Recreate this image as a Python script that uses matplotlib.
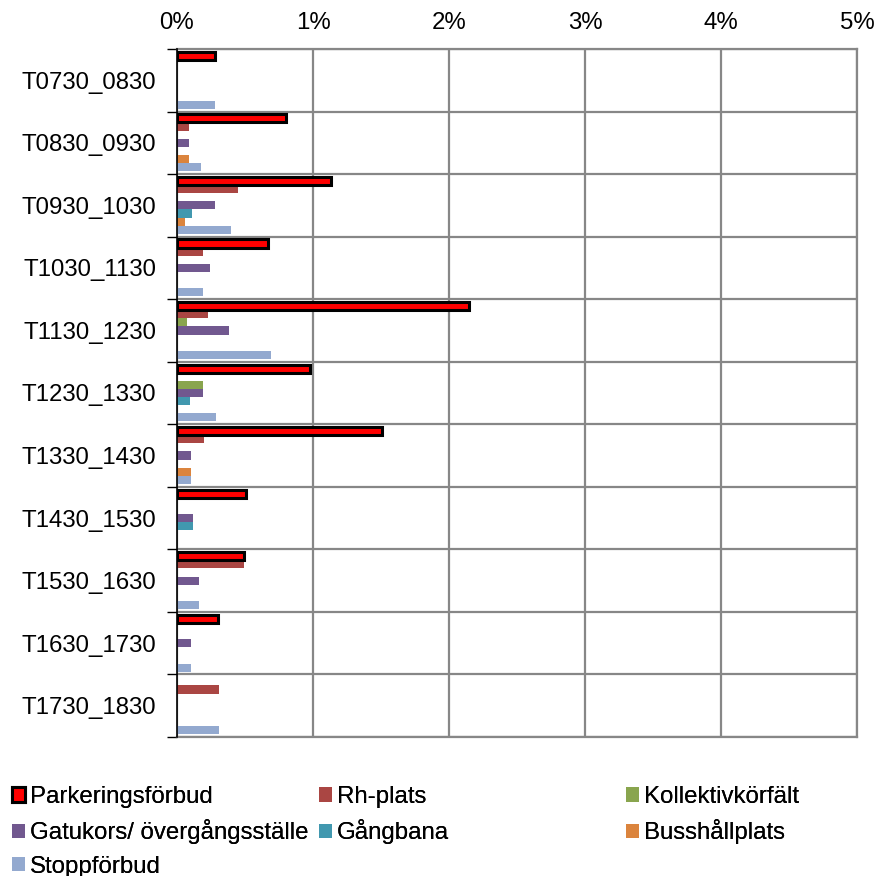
# //--------------------------< imports >--------------------------\\

import matplotlib
matplotlib.use('Agg')
import matplotlib.pyplot as plt
from matplotlib.patches import Patch
import numpy as np


# //--------------------------< data (share in %) >--------------------------\\

periods = ['T0730_0830', 'T0830_0930', 'T0930_1030', 'T1030_1130', 'T1130_1230', 'T1230_1330',
           'T1330_1430', 'T1430_1530', 'T1530_1630', 'T1630_1730', 'T1730_1830']

parkering = [0.28, 0.80, 1.13, 0.67, 2.145, 0.98, 1.51, 0.51, 0.49, 0.30, 0.0]
rh_plats = [0.0, 0.09, 0.45, 0.19, 0.23, 0.0, 0.20, 0.0, 0.49, 0.0, 0.31]
kollektiv = [0.0, 0.0, 0.0, 0.0, 0.075, 0.19, 0.0, 0.0, 0.0, 0.0, 0.0]
gatukors = [0.0, 0.09, 0.28, 0.24, 0.385, 0.19, 0.10, 0.12, 0.16, 0.10, 0.0]
gangbana = [0.0, 0.0, 0.11, 0.0, 0.0, 0.095, 0.0, 0.12, 0.0, 0.0, 0.0]
busshall = [0.0, 0.09, 0.06, 0.0, 0.0, 0.0, 0.10, 0.0, 0.0, 0.0, 0.0]
stopp = [0.28, 0.18, 0.40, 0.19, 0.69, 0.29, 0.10, 0.0, 0.16, 0.10, 0.31]

names = ['Parkeringsförbud', 'Rh-plats', 'Kollektivkörfält', 'Gatukors/ övergångsställe',
         'Gångbana', 'Busshållplats', 'Stoppförbud']
series = [parkering, rh_plats, kollektiv, gatukors, gangbana, busshall, stopp]
colors = ['#FF0000', '#AA4643', '#89A54E', '#71588F', '#4198AF', '#DB843D', '#93A9CF']


# //--------------------------< figure >--------------------------\\

plt.rcParams['font.family'] = ['Liberation Sans', 'DejaVu Sans']
fs = 17.3
grid_col = '#878787'

fig = plt.figure(figsize=(8.77, 8.76), dpi=100)
ax = fig.add_axes([177 / 877, 1 - 737 / 876, 680 / 877, 688 / 876])

pos = np.arange(len(periods))
h = 0.13
handles = []
for i, (vals, name, col) in enumerate(zip(series, names, colors)):
    vals = np.array(vals)
    y = pos + (i - 3) * h
    keep = vals > 0   # empty cells draw nothing
    if i == 0:
        ax.barh(y[keep], vals[keep], height=h, color=col, edgecolor='black', linewidth=2.2, zorder=4)
        handles.append(Patch(facecolor=col, edgecolor='black', linewidth=2.2, label=name))
    else:
        ax.barh(y[keep], vals[keep], height=h, color=col, edgecolor='none', zorder=3)
        handles.append(Patch(facecolor=col, edgecolor='none', label=name))

ax.set_xlim(0, 5)
ax.set_ylim(len(periods) - 0.5, -0.5)

# x axis on top
ax.xaxis.tick_top()
ax.set_xticks(np.arange(0, 6))
ax.set_xticklabels(['%d%%' % v for v in range(6)], fontsize=fs)
ax.tick_params(axis='x', length=0, pad=11)

# category boundaries as major ticks, names on minor ticks
ax.set_yticks(np.arange(len(periods) + 1) - 0.5)
ax.set_yticklabels([])
ax.set_yticks(pos, minor=True)
ax.set_yticklabels(periods, minor=True, fontsize=fs)
ax.tick_params(axis='y', which='major', length=7, width=1, color='black', direction='out')
ax.tick_params(axis='y', which='minor', length=0, pad=15)

ax.grid(True, axis='both', which='major', color=grid_col, linewidth=1.6, zorder=0)
ax.set_axisbelow(True)
for s in ['top', 'right', 'bottom']:
    ax.spines[s].set_color(grid_col)
    ax.spines[s].set_linewidth(1.6)
ax.spines['left'].set_color('black')
ax.spines['left'].set_linewidth(1.2)
ax.spines['left'].set_zorder(5)


# //--------------------------< legend >--------------------------\\

legend_cols = [[0, 3, 6], [1, 4], [2, 5]]
legend_x = [11.5, 319, 626]
for col_idx, xpix in zip(legend_cols, legend_x):
    lg = fig.legend([handles[k] for k in col_idx], [names[k] for k in col_idx],
                    loc='upper left', bbox_to_anchor=(xpix / 877, 1 - 786 / 876),
                    frameon=False, fontsize=fs, handlelength=0.55, handleheight=0.55,
                    handletextpad=0.2, labelspacing=0.47, borderpad=0, borderaxespad=0)
    fig.add_artist(lg)

fig.savefig('out.png', dpi=100)
